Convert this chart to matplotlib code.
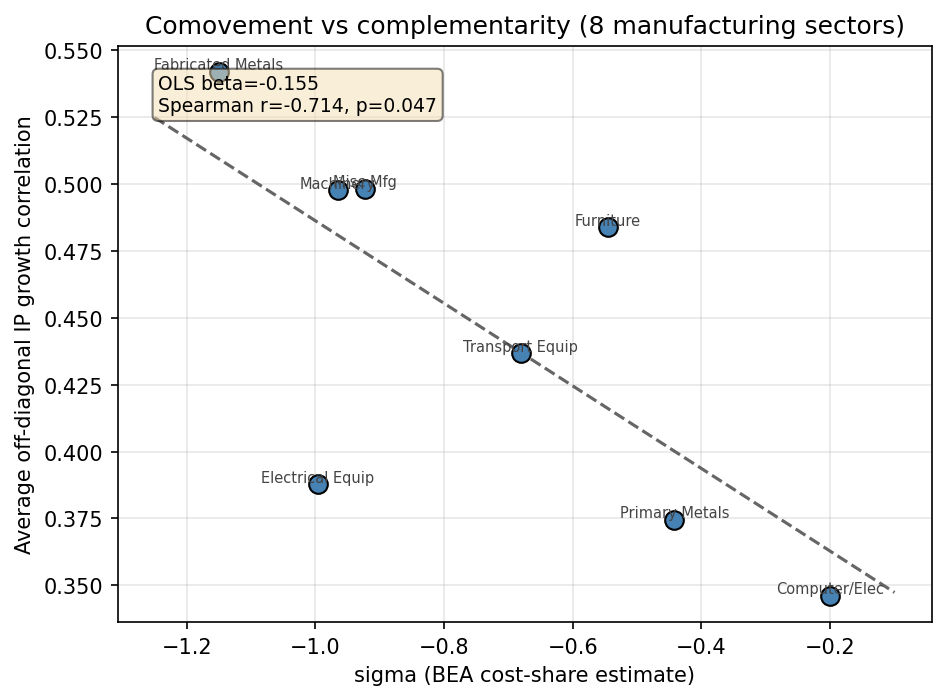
import numpy as np
import matplotlib
matplotlib.use("Agg")
import matplotlib.pyplot as plt

sectors = ["Fabricated Metals", "Machinery", "Misc Mfg", "Furniture",
           "Transport Equip", "Electrical Equip", "Primary Metals", "Computer/Elec"]
sigma = [-1.150, -0.965, -0.923, -0.546, -0.681, -0.996, -0.442, -0.200]
corr = [0.5420, 0.4977, 0.4981, 0.4838, 0.4367, 0.3878, 0.3746, 0.3460]
stats_text = "OLS beta=-0.155\nSpearman r=-0.714, p=0.047"

x = np.array(sigma)
y = np.array(corr)

fig, ax = plt.subplots(figsize=(6.3067, 4.6733), dpi=150)
fig.subplots_adjust(left=117.5/946, right=931.5/946, top=1-46.5/701, bottom=1-623.3/701)
ax.scatter(x, y, s=80, color="#4682b4", edgecolor="black", linewidth=1, zorder=3)
for name, xi, yi in zip(sectors, x, y):
    ax.annotate(name, (xi, yi), textcoords="offset points", xytext=(0, 1.3),
                ha="center", va="baseline", fontsize=7, color="#444444")

b, a = np.polyfit(x, y, 1)
xs = np.linspace(x.min() - 0.1, x.max() + 0.1, 100)
ax.plot(xs, a + b * xs, "--", color="#555555", alpha=0.9, lw=1.5, zorder=2)

ax.text(0.05, 0.95, stats_text, transform=ax.transAxes, va="top", fontsize=9,
        bbox=dict(boxstyle="round", facecolor="wheat", alpha=0.5), zorder=4)

ax.set_xlabel("sigma (BEA cost-share estimate)")
ax.set_ylabel("Average off-diagonal IP growth correlation")
ax.set_title("Comovement vs complementarity (8 manufacturing sectors)")
ax.grid(True, alpha=0.3)
fig.savefig("out.png", dpi=150)
